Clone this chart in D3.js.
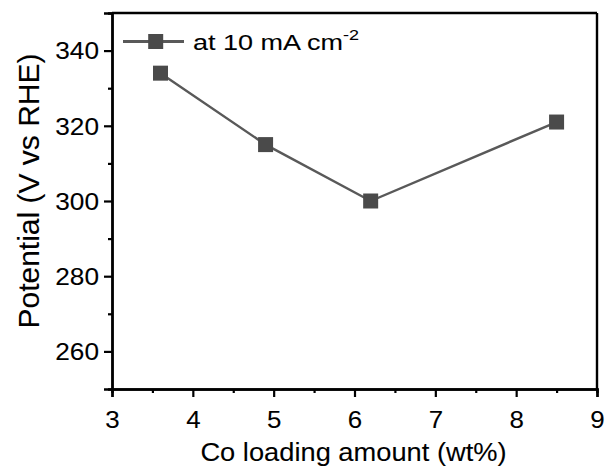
<!DOCTYPE html>
<html>
<head>
<meta charset="utf-8">
<script src="https://cdn.jsdelivr.net/npm/d3@7"></script>
<style>
  html, body { margin: 0; padding: 0; background: #fff; }
  svg { display: block; }
  text { font-family: Arial, "Liberation Sans", sans-serif; fill: #000; stroke: #000; stroke-width: 0.08px; }
</style>
</head>
<body>
<svg id="chart" width="610" height="470"></svg>
<script>
// Data
const loading = [3.6, 4.9, 6.2, 8.5];          // Co loading amount (wt%)
const potential = [334, 315, 300, 321];        // Potential at 10 mA cm-2
const xTickValues = [3, 4, 5, 6, 7, 8, 9];
const yTickValues = [260, 280, 300, 320, 340];
const xMinorTicks = [3.5, 4.5, 5.5, 6.5, 7.5, 8.5];
const yMinorTicks = [270, 290, 310, 330];
const seriesName = "at 10 mA cm";
const seriesSup = "-2";
const xTitle = "Co loading amount (wt%)";
const yTitle = "Potential (V vs RHE)";

const svg = d3.select("#chart");
const L = 112, R = 597, T = 13, B = 389;

const x = d3.scaleLinear().domain([3, 9]).range([L, R]);
const y = d3.scaleLinear().domain([250, 350]).range([B, T]);

const lineColor = "#595959", markColor = "#4a4a4a";

// frame (top and right)
svg.append("line").attr("x1", L).attr("x2", R).attr("y1", T).attr("y2", T)
  .attr("stroke", "#000").attr("stroke-width", 2.4);
svg.append("line").attr("x1", R).attr("x2", R).attr("y1", T).attr("y2", B)
  .attr("stroke", "#000").attr("stroke-width", 2.4);

// x axis
const gx = svg.append("g").attr("transform", `translate(0,${B})`)
  .call(d3.axisBottom(x).tickValues(xMinorTicks).tickSize(4).tickFormat(""));
const gxMajor = svg.append("g").attr("transform", `translate(0,${B})`)
  .call(d3.axisBottom(x).tickValues(xTickValues).tickSize(8).tickFormat(d3.format("d")));
[gx, gxMajor].forEach(g => {
  g.selectAll("path.domain").attr("stroke", "#000").attr("stroke-width", 2.4);
  g.selectAll(".tick line").attr("stroke", "#000").attr("stroke-width", 2.2);
});
gxMajor.selectAll(".tick text")
  .attr("font-size", 24).attr("y", 0).attr("dy", 0)
  .attr("transform", `translate(0,39) scale(1.08,1)`)
  .style("font-family", "Arial, 'Liberation Sans', sans-serif");

// y axis
const gy = svg.append("g").attr("transform", `translate(${L},0)`)
  .call(d3.axisLeft(y).tickValues(yMinorTicks).tickSize(4).tickFormat(""));
const gyMajor = svg.append("g").attr("transform", `translate(${L},0)`)
  .call(d3.axisLeft(y).tickValues(yTickValues).tickSize(8).tickFormat(d3.format("d")));
[gy, gyMajor].forEach(g => {
  g.selectAll("path.domain").attr("stroke", "#000").attr("stroke-width", 2.4);
  g.selectAll(".tick line").attr("stroke", "#000").attr("stroke-width", 2.2);
});
gyMajor.selectAll(".tick text")
  .attr("font-size", 23).attr("x", 0).attr("dy", "0.36em")
  .attr("text-anchor", "end")
  .attr("transform", `translate(-13,0) scale(1.14,1)`)
  .style("font-family", "Arial, 'Liberation Sans', sans-serif");

// axis titles
svg.append("text")
  .attr("transform", `translate(${(L + R) / 2 - 1},461) scale(1.07,1)`)
  .attr("text-anchor", "middle").attr("font-size", 25.5)
  .text(xTitle);
svg.append("text")
  .attr("transform", `translate(39,191) rotate(-90)`)
  .attr("text-anchor", "middle").attr("font-size", 30)
  .text(yTitle);

// series line
const pts = loading.map((d, i) => [d, potential[i]]);
svg.append("path")
  .datum(pts)
  .attr("fill", "none").attr("stroke", lineColor).attr("stroke-width", 2.4)
  .attr("d", d3.line().x(d => x(d[0])).y(d => y(d[1])));

const ms = 15;
svg.selectAll("rect.mark").data(pts).enter().append("rect")
  .attr("class", "mark")
  .attr("x", d => x(d[0]) - ms / 2).attr("y", d => y(d[1]) - ms / 2)
  .attr("width", ms).attr("height", ms)
  .attr("fill", markColor);

// legend
const lg = svg.append("g");
const ly = 41.5;
lg.append("line").attr("x1", 123).attr("x2", 184).attr("y1", ly).attr("y2", ly)
  .attr("stroke", lineColor).attr("stroke-width", 2.8);
lg.append("rect").attr("x", 155.7 - ms / 2).attr("y", ly - ms / 2)
  .attr("width", ms).attr("height", ms).attr("fill", markColor);
const lt = lg.append("text")
  .attr("transform", `translate(193,${ly + 8}) scale(1.2,1)`)
  .attr("font-size", 22.5);
lt.append("tspan").text(seriesName);
lt.append("tspan").attr("font-size", 15).attr("dy", -10).text(seriesSup);
</script>
</body>
</html>
